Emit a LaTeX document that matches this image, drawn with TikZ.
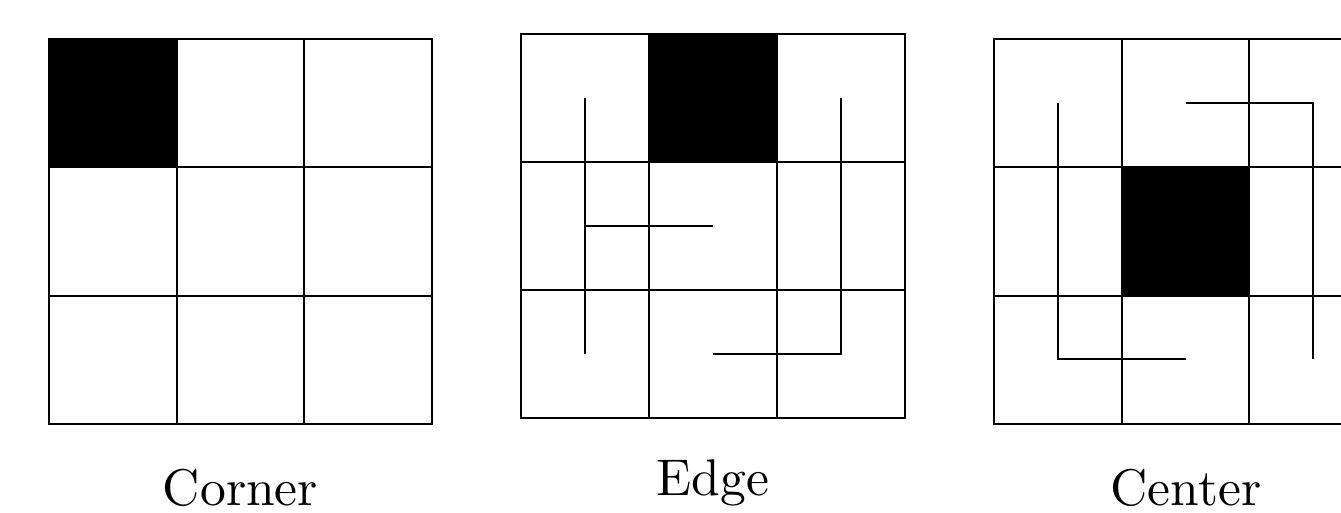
\documentclass[tikz,border=0pt]{standalone}
\usepackage{fontspec}
\newfontfamily\lmten{lmroman10-regular.otf}
\begin{document}
\begin{tikzpicture}[x=1pt,y=-1pt,
  gridline/.style={line width=2pt, line cap=rect},
  walk/.style={line width=2pt},
  lbl/.style={anchor=base, inner sep=0pt, font=\lmten\fontsize{51.6}{60}\selectfont}]
\useasboundingbox (0,0) rectangle (1341,512);
\clip (0,0) rectangle (1341,512);
% Corner grid
\fill (49,39) rectangle (177,167);
\draw[gridline] (49,39) rectangle (432,424);
\draw[gridline] (177,39) -- (177,424) (304,39) -- (304,424) (49,167) -- (432,167) (49,296) -- (432,296);
% Edge grid
\fill (649,34) rectangle (777,162);
\draw[gridline] (521,34) rectangle (905,418);
\draw[gridline] (649,34) -- (649,418) (777,34) -- (777,418) (521,162) -- (905,162) (521,290) -- (905,290);
\draw[walk] (585,98) -- (585,354);
\draw[walk] (585,226) -- (713,226);
\draw[walk] (841,98) -- (841,354) -- (713,354);
% Center grid
\fill (1122,167) rectangle (1249,296);
\draw[gridline] (994,39) rectangle (1377,424);
\draw[gridline] (1122,39) -- (1122,424) (1249,39) -- (1249,424) (994,167) -- (1377,167) (994,296) -- (1377,296);
\draw[walk] (1058,103) -- (1058,359) -- (1186,359);
\draw[walk] (1186,103) -- (1313,103) -- (1313,359);
% Labels
\node[lbl] (corner) at (240.5,505) {Corner};
\node[lbl] (edge) at (713,495) {Edge};
\node[lbl] (center) at (1186,505) {Center};
\end{tikzpicture}
\end{document}
